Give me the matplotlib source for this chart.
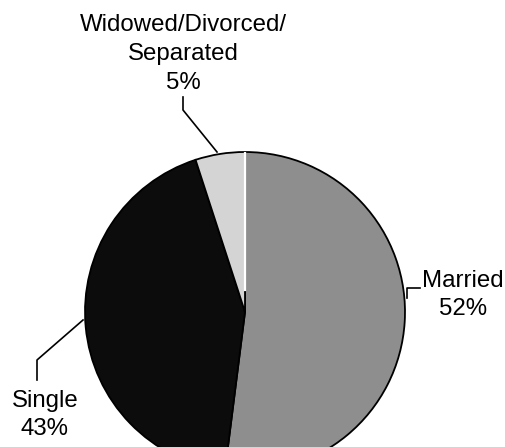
import matplotlib
matplotlib.use("Agg")
import matplotlib.pyplot as plt

# slice data (percent), clockwise from 12 o'clock
categories = ["Married", "Single", "Widowed/Divorced/\nSeparated"]
shares = [52, 43, 5]
colors = ["#8e8e8e", "#0c0c0c", "#d4d4d4"]

W, H = 506, 447
plt.rcParams['font.family'] = ['Liberation Sans', 'DejaVu Sans']

fig = plt.figure(figsize=(W / 100, H / 100), dpi=100)
ax = fig.add_axes([0, 0, 1, 1])

def fy(py):
    # image pixel row -> data y
    return H - py

cx, cy, r = 245, 312, 160
ax.pie(shares, colors=colors, startangle=90, counterclock=False,
       center=(cx, fy(cy)), radius=r, frame=True,
       wedgeprops=dict(edgecolor="black", linewidth=1.3))

# white gap between widowed and married slices
ax.plot([cx, cx], [fy(153), fy(290)], color="white", lw=1.6, zorder=5)

ax.set_xlim(0, W)
ax.set_ylim(0, H)
ax.set_aspect("equal")
ax.set_axis_off()

fs = 17.3
ls = 1.4
# labels with leader lines
ax.text(183, fy(54), categories[2] + "\n%d%%" % shares[2], ha="center", va="center",
        fontsize=fs, linespacing=ls)
ax.plot([183, 183, 217], [fy(97), fy(110), fy(152)], color="black", lw=1.2)

ax.text(463, fy(295), categories[0] + "\n%d%%" % shares[0], ha="center", va="center",
        fontsize=fs, linespacing=ls)
ax.plot([407, 407, 420], [fy(298), fy(288), fy(288)], color="black", lw=1.2)

ax.text(45, fy(415), categories[1] + "\n%d%%" % shares[1], ha="center", va="center",
        fontsize=fs, linespacing=ls)
ax.plot([37, 37, 83], [fy(380), fy(360), fy(320)], color="black", lw=1.2)

fig.savefig("out.png", dpi=100, facecolor="white")
